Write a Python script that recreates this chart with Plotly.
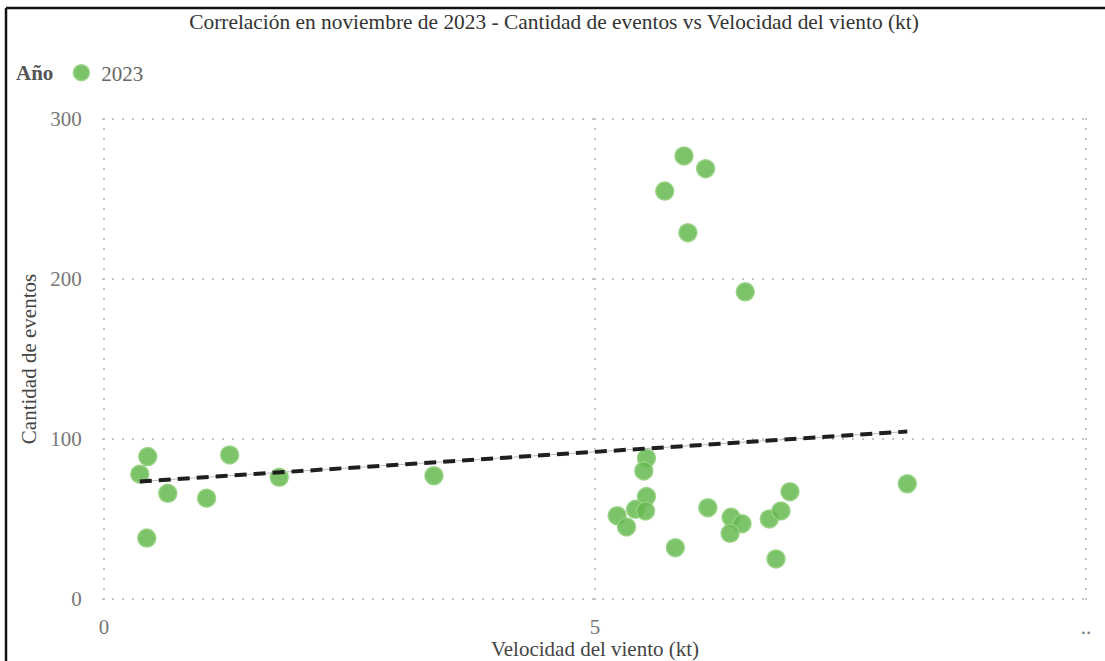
import numpy as np
import plotly.graph_objects as go

# Daily observations for November 2023
velocidad_kt = [0.365, 0.446, 0.436, 0.65, 1.045, 1.28, 1.785, 3.36, 8.18,
                5.906, 6.126, 5.71, 5.946, 6.53,
                5.524, 5.497, 5.524, 5.413, 5.514, 5.226, 5.321, 5.818,
                6.149, 6.386, 6.497, 6.376, 6.775, 6.893, 6.985, 6.843]
cantidad_eventos = [78, 89, 38, 66, 63, 90, 76, 77, 72,
                    277, 269, 255, 229, 192,
                    88, 80, 64, 56, 55, 52, 45, 32,
                    57, 51, 47, 41, 50, 55, 67, 25]

x_ticks = [0, 5, 10]
x_tick_text = ["0", "5", ".."]
y_ticks = [0, 100, 200, 300]

FONT = "Liberation Serif"
GREEN = "rgba(102,184,80,0.85)"

# Least-squares trend line across the observed wind-speed span
slope, intercept = np.polyfit(velocidad_kt, cantidad_eventos, 1)
trend_x = np.array([min(velocidad_kt), max(velocidad_kt)])
trend_y = slope * trend_x + intercept

fig = go.Figure()

fig.add_trace(go.Scatter(
    x=velocidad_kt, y=cantidad_eventos, mode="markers", name="2023",
    marker=dict(size=18, color=GREEN,
                line=dict(color="rgba(150,210,130,0.9)", width=1.5)),
))

# thin grey guide under the dashed trend
fig.add_trace(go.Scatter(
    x=trend_x, y=trend_y, mode="lines", showlegend=False, hoverinfo="skip",
    line=dict(color="rgba(170,170,170,0.8)", width=1),
))
fig.add_trace(go.Scatter(
    x=trend_x, y=trend_y, mode="lines", showlegend=False, hoverinfo="skip",
    line=dict(color="#1f1f1f", width=4, dash="12px,7px"),
))

# Plot-area geometry in pixels, used to place the frame lines
W, H = 1105, 661
ML, MR, MT, MB = 102, 17, 118, 61
pw, ph = W - ML - MR, H - MT - MB


def px_x(p):
    return (p - ML) / pw


def px_y(p):
    return (H - MB - p) / ph


frame = dict(color="#111111", width=2.5)
shapes = [
    dict(type="line", xref="paper", yref="paper",
         x0=px_x(6), x1=px_x(W + 5), y0=px_y(8), y1=px_y(8), line=frame),
    dict(type="line", xref="paper", yref="paper",
         x0=px_x(6), x1=px_x(6), y0=px_y(8), y1=px_y(H + 5), line=frame),
]

grid = dict(showgrid=True, gridcolor="#c4c4c4", gridwidth=1.5,
            griddash="2px,8px", zeroline=False, showline=False,
            automargin=False)

fig.update_layout(
    width=W, height=H,
    margin=dict(l=ML, r=MR, t=MT, b=MB, pad=0, autoexpand=False),
    paper_bgcolor="white", plot_bgcolor="white",
    font=dict(family=FONT, size=21, color="#777777"),
    title=dict(
        text="Correlación en noviembre de 2023 - Cantidad de eventos vs Velocidad del viento (kt)",
        x=554 / W, xanchor="center",
        y=1 - 22 / H, yanchor="middle",
        font=dict(family=FONT, size=21.4, color="#333333"),
    ),
    legend=dict(
        orientation="h", x=px_x(14), xanchor="left", y=px_y(73), yanchor="middle",
        title=dict(text="<b>Año</b>", font=dict(family=FONT, size=21, color="#555555")),
        font=dict(family=FONT, size=21, color="#666666"),
        bgcolor="rgba(0,0,0,0)",
    ),
    xaxis=dict(
        # a hair of padding keeps the edge grid lines from being clipped
        range=[-0.02, 10.02], tickvals=x_ticks, ticktext=x_tick_text,
        ticks="outside", ticklen=8, tickcolor="rgba(0,0,0,0)",
        tickfont=dict(family=FONT, size=21, color="#777777"),
        title=dict(text="Velocidad del viento (kt)", standoff=8,
                   font=dict(family=FONT, size=21, color="#444444")),
        **grid,
    ),
    yaxis=dict(
        range=[-0.7, 300.7], tickvals=y_ticks,
        ticks="outside", ticklen=15, tickcolor="rgba(0,0,0,0)",
        tickfont=dict(family=FONT, size=21, color="#777777"),
        title=dict(text="Cantidad de eventos", standoff=7,
                   font=dict(family=FONT, size=21, color="#444444")),
        **grid,
    ),
    shapes=shapes,
    showlegend=True,
)

fig.write_html("out.html")
